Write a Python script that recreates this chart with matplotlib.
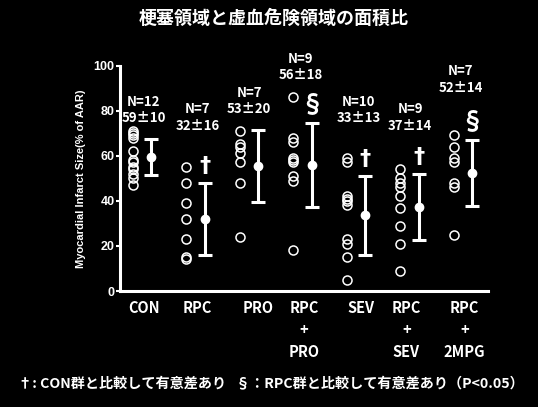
import matplotlib.pyplot as plt

plt.rcParams.update({
    "figure.facecolor": "black",
    "axes.facecolor": "black",
    "text.color": "white",
    "font.family": ["Lato", "Noto Sans CJK JP", "DejaVu Sans"],
})

groups = ["CON", "RPC", "PRO", "RPC\n+\nPRO", "SEV", "RPC\n+\nSEV", "RPC\n+\n2MPG"]
points = [
    [71, 70, 69, 68, 62, 58, 57, 55, 54, 52, 50, 47],
    [55, 48, 39, 32, 23, 15, 14],
    [71, 65, 64, 61, 57, 48, 24],
    [86, 68, 66, 59, 58, 57, 51, 49, 18],
    [59, 57, 42, 41, 40, 38, 23, 21, 15, 5],
    [54, 50, 48, 46, 42, 37, 29, 21, 9],
    [69, 64, 59, 57, 48, 46, 25],
]
means = [59.5, 32, 55.6, 56, 33.5, 37.2, 52.3]
errs = [8, 16, 16, 18.7, 17.4, 14.6, 14.7]
stat_labels = ["N=12\n59±10", "N=7\n32±16", "N=7\n53±20", "N=9\n56±18",
               "N=10\n33±13", "N=9\n37±14", "N=7\n52±14"]
marks = ["", "†", "", "§", "†", "†", "§"]

# layout only
stat_y = [73.5, 70, 77.5, 92.5, 73.5, 70, 87]
stat_dx = [0.2, 0.21, 0.17, 0.14, 0.22, 0.18, 0.13]
label_dx = [0.2, 0.2, 0.34, 0.2, 0.27, 0.11, 0.2]
mean_dx = 0.345

fig = plt.figure(figsize=(5.38, 4.07), dpi=100)
ax = fig.add_axes([0.223, 0.285, 0.684, 0.554])

for i, vals in enumerate(points):
    ax.plot([i] * len(vals), vals, "o", mfc="none", mec="white", ms=6.5, mew=1.1)
    ax.errorbar(i + mean_dx, means[i], yerr=errs[i], fmt="o", color="white",
                ms=6, elinewidth=2.2, capsize=5, capthick=2.2)
    ax.text(i + stat_dx[i], stat_y[i], stat_labels[i], ha="center", va="bottom",
            fontsize=9.5, fontweight="bold", linespacing=1.25,
            family=["Noto Sans CJK JP", "DejaVu Sans"])
    if marks[i] == "†":
        ax.text(i + mean_dx, means[i] + errs[i] + 3, marks[i], ha="center",
                va="bottom", fontsize=16, fontweight="bold",
                family=["DejaVu Sans"])
    elif marks[i] == "§":
        ax.text(i + mean_dx, means[i] + errs[i] + 3, marks[i], ha="center",
                va="bottom", fontsize=17, fontweight="bold",
                family=["Noto Sans CJK JP"])
    ax.text(i + label_dx[i], -4, groups[i], ha="center", va="top",
            fontsize=10.5, fontweight="bold", linespacing=1.45,
            family=["Noto Sans CJK JP"])

ax.set_xlim(-0.243, 6.636)
ax.set_ylim(0, 100)
ax.set_yticks([0, 20, 40, 60, 80, 100])
ax.tick_params(axis="y", colors="white", labelsize=9, length=3, width=1.5, pad=1)
for lab in ax.get_yticklabels():
    lab.set_fontweight("bold")
    lab.set_family("Liberation Sans")
ax.set_xticks([])
for s in ["top", "right"]:
    ax.spines[s].set_visible(False)
for s in ["left", "bottom"]:
    ax.spines[s].set_color("white")
    ax.spines[s].set_linewidth(2.2)
ax.set_ylabel("Myocardial Infarct Size(% of AAR)", fontsize=8, fontweight="bold",
              color="white", family="Liberation Sans", labelpad=5)

fig.text(0.508, 0.955, "梗塞領域と虚血危険領域の面積比", ha="center", va="center",
         fontsize=13, fontweight="bold", family=["Noto Sans CJK JP"])
fig.text(0.033, 0.058, "†: CON群と比較して有意差あり   §：RPC群と比較して有意差あり（P<0.05）",
         ha="left", va="center", fontsize=10.2, fontweight="bold",
         family=["Noto Sans CJK JP", "DejaVu Sans"])

fig.savefig("out.png", dpi=100, facecolor="black")
